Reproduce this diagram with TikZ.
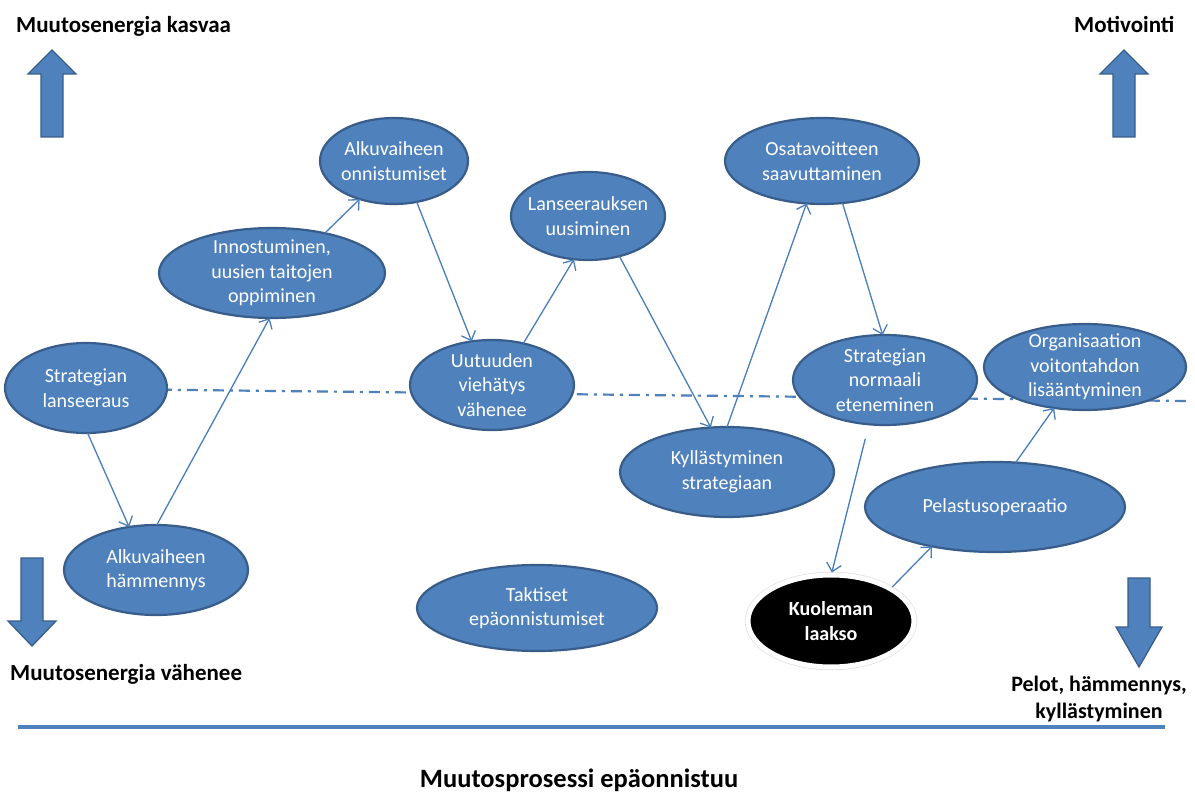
\documentclass[tikz,border=0pt]{standalone}
\usepackage{fontspec}
\setmainfont{Carlito}
\usetikzlibrary{shapes.geometric,arrows.meta}
\definecolor{accent}{HTML}{4F81BD}
\definecolor{accentdark}{HTML}{385D8A}
\definecolor{linkblue}{HTML}{4A7EBB}
\tikzset{
  bubble/.style={ellipse, draw=accentdark, line width=2.2pt, fill=accent,
    inner sep=0pt, outer sep=0pt},
  bubtext/.style={text=white, align=center, inner sep=0pt,
    font=\fontsize{20}{24.5}\selectfont},
  link/.style={draw=linkblue, line width=1.3pt,
    -{Straight Barb[length=8pt,width=15pt]}},
  heading/.style={font=\bfseries\fontsize{23}{28}\selectfont, inner sep=0pt},
  levelline/.style={accent, line width=2.2pt, dash pattern=on 11pt off 6pt on 3pt off 6pt},
  blockarrow/.style={fill=accent, draw=accentdark, line width=1.3pt, line join=miter},
}
% \mybub{name}{x}{y}{rx}{ry}{text}
\newcommand\mybub[6]{%
  \node[bubble, minimum width={2*#4pt}, minimum height={2*#5pt}] (#1) at (#2,#3) {};
  \node[bubtext] (#1t) at (#1) {#6};
}
\begin{document}
\begin{tikzpicture}[x=1pt,y=-1pt]
\useasboundingbox (0,0) rectangle (1195,794);

% level line across the picture
\coordinate (lvl1) at (5,388);
\coordinate (lvl2) at (1187,401);
\draw[levelline] (lvl1) -- (lvl2);

% process states
\mybub{e1}{86}{388}{81}{45}{Strategian\\lanseeraus}
\mybub{e2}{156}{570}{92}{45}{Alkuvaiheen\\hämmennys}
\mybub{e3}{272}{273}{113}{45}{Innostuminen,\\uusien taitojen\\oppiminen}
\mybub{e4}{394}{161}{74}{43}{Alkuvaiheen\\onnistumiset}
\mybub{e5}{492}{385}{82}{45}{Uutuuden\\viehätys\\vähenee}
\mybub{e6}{588}{216}{77}{44}{Lanseerauksen\\uusiminen}
\mybub{e7}{727}{472}{107}{45}{Kyllästyminen\\strategiaan}
\mybub{e8}{822}{161}{97}{43}{Osatavoitteen\\saavuttaminen}
\mybub{e9}{885}{380}{92}{45}{Strategian\\normaali\\eteneminen}
\mybub{e10}{1085}{367}{101}{43}{Organisaation\\voitontahdon\\lisääntyminen}
\mybub{e11}{995}{507}{130}{45}{Pelastusoperaatio}
\mybub{e13}{537}{608}{120}{43}{Taktiset\\epäonnistumiset}

% faint trace of the level line over the states
\draw[levelline, opacity=0.12] (lvl1) -- (lvl2);

% the valley of death
\node[ellipse, draw=black!12, line width=1.5pt, minimum width=171pt, minimum height=97pt,
  inner sep=0pt] (e12halo) at (831,621) {};
\node[ellipse, fill=black, draw=white, line width=5pt, minimum width=166pt,
  minimum height=92pt, inner sep=0pt] (e12) at (831,621) {};
\node[bubtext, font=\bfseries\fontsize{20}{24.5}\selectfont] (e12t) at (e12) {Kuoleman\\laakso};

% transitions
\draw[link] (e1.272) -- (e2.122);
\draw[link] (e2.89) -- (e3.267);
\draw[link] (e3.37) -- (e4.228);
\draw[link] (e4.299) -- (e5.115);
\draw[link] (e5.53) -- (e6.252);
\draw[link] (e6.308) -- (e7.110);
\draw[link] (e7.90) -- (e8.250);
\draw[link] (e8.296) -- (e9.93);
\draw[link, shorten <=15pt] (e9.250) -- (e12.89);
\draw[link] (e12.29) -- (e11.212);
\draw[link] (e11.65) -- (e10.233);

% block arrows
\draw[blockarrow] (41,137) -- (41,74) -- (28,74) -- (52,50) -- (76,74) -- (63,74) -- (63,137) -- cycle;
\draw[blockarrow] (1113,137) -- (1113,74) -- (1100,74) -- (1124,50) -- (1148,74) -- (1135,74) -- (1135,137) -- cycle;
\draw[blockarrow] (21,558) -- (21,621) -- (8,621) -- (32,646) -- (56,621) -- (43,621) -- (43,558) -- cycle;
\draw[blockarrow] (1128,578) -- (1128,627) -- (1116,627) -- (1139,667) -- (1162,627) -- (1150,627) -- (1150,578) -- cycle;

% headings
\node[heading, anchor=base west] (hup) at (16,33) {Muutosenergia kasvaa};
\node[heading, anchor=base west] (hmot) at (1074,33) {Motivointi};
\node[heading, anchor=base west] (hdown) at (10,680) {Muutosenergia vähenee};
\node[heading, align=center, font=\bfseries\fontsize{22}{27}\selectfont] (hfear) at (1099,699) {Pelot, hämmennys,\\kyllästyminen};

% bottom rule and caption
\coordinate (rule1) at (18,727);
\coordinate (rule2) at (1165,727);
\draw[accent, line width=4pt] (rule1) -- (rule2);
\node[font=\bfseries\fontsize{26.5}{32}\selectfont, inner sep=0pt, anchor=base] (cap) at (579,787) {Muutosprosessi epäonnistuu};
\end{tikzpicture}
\end{document}
